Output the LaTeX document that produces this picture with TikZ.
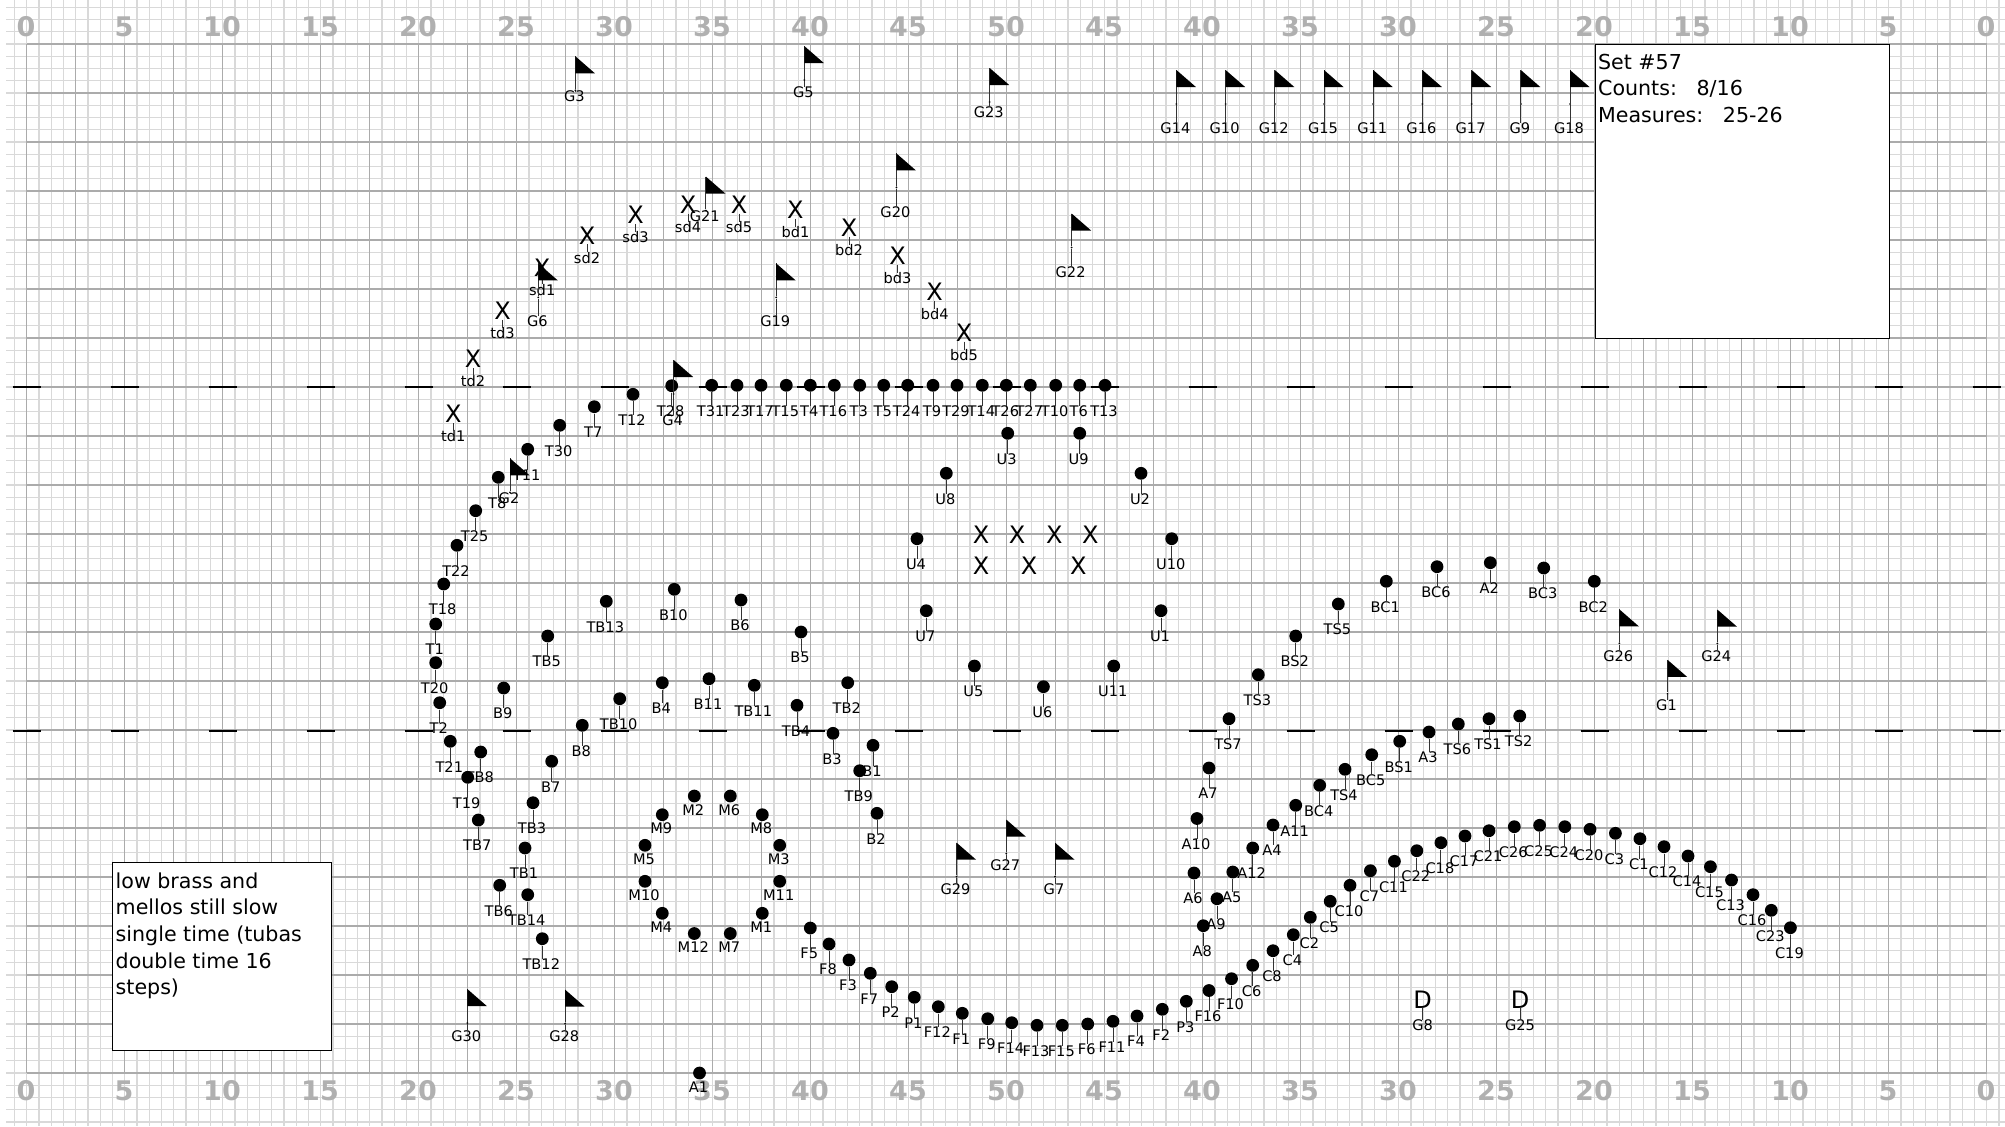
\documentclass[tikz,border=0pt]{standalone}
\usepackage{xcolor}
\usepackage{fontspec}
\setmainfont{DejaVu Sans}
\usetikzlibrary{positioning}

\definecolor{finegrid}{HTML}{D9D9D9}
\definecolor{yardgrid}{HTML}{ABABAB}
\definecolor{yardnum}{HTML}{B0B0B0}

\begin{document}
\begin{tikzpicture}[
				x=0.5pt, y=-0.5pt,
				font=\fontsize{7.3}{8}\selectfont,
				node distance=6.7pt,
				fineline/.style={finegrid, line width=0.7pt},
				yardline/.style={yardgrid, line width=0.65pt},
				hashmark/.style={black, line width=1pt},
				bignum/.style={font=\fontsize{13.5}{14}\selectfont\bfseries, text=yardnum, inner sep=0pt},
				dot/.style={circle, fill=black, inner sep=0pt, minimum size=6.4pt},
				flagbase/.style={circle, fill=black, inner sep=0pt, minimum size=1pt},
				xmark/.style={font=\fontsize{12}{12}\selectfont, inner sep=0pt, text height=8.7pt, text depth=0pt},
				tag/.style={inner sep=0pt, text height=5.1pt, text depth=0pt},
				stem/.style={black!80, line width=0.45pt},
				notebox/.style={draw=black, fill=white, line width=0.55pt, inner sep=0pt, anchor=north west},
				notetext/.style={font=\fontsize{10.3}{13.35}\selectfont, align=left, inner sep=0pt, anchor=north west}
				]
				\useasboundingbox (0,0) rectangle (2005,1126);
				
				% Fine grid
				\foreach \i in {0,...,162} \draw[fineline] (14.45+12.25*\i,0) -- (14.45+12.25*\i,1126);
				\foreach \j in {0,...,91} \draw[fineline] (6,7.25+12.25*\j) -- (2005,7.25+12.25*\j);
				
				% Yard lines
				\foreach \i in {0,...,40} \draw[yardline] (26.7+49*\i,44) -- (26.7+49*\i,1073);
				\foreach \j in {0,...,21} \draw[yardline] (26.7,44+49*\j) -- (1986.7,44+49*\j);
				
				% Hash marks
				\foreach \i in {0,...,20} {
					\draw[hashmark] (12.7+98*\i,387) -- (40.7+98*\i,387);
					\draw[hashmark] (12.7+98*\i,730.5) -- (40.7+98*\i,730.5);
				}
				
				% Yard numbers
				\foreach \num [count=\k from 0] in {0,5,10,15,20,25,30,35,40,45,50,45,40,35,30,25,20,15,10,5,0} {
					\node[bignum] (top\k) at (26+98*\k,27) {\num};
					\node[bignum] (bottom\k) at (26+98*\k,1091) {\num};
				}
				
				% Performers with a label 25px under the dot
				\foreach \n/\x/\y in {
					T12/633/394.3, T7/594.3/406.7, T30/559.7/425.3, T11/527.7/449.3, T8/498.3/477.3, T25/475.7/510.7,
					T22/457/545.3, T18/443.7/584, T1/435.7/624, T20/435.7/662.7, T2/439.7/702.7, T21/450.3/741.3,
					T19/467.7/777.3, T28/671.7/385.7, T31/711.7/385.3, T23/737/385.3, T17/761/385.3, T15/786.3/385.3,
					T4/810.3/385.3, T16/834.3/385.3, T3/859.7/385.3, T5/883.7/385.3, T24/907.7/385.3, T9/933/385.3,
					T29/957/385.3, T14/982.3/385.3, T26/1006.3/385.3, T27/1030.3/385.3, T10/1055.7/385.3, T6/1079.7/385.3,
					T13/1105/385.3,
					TB8/480.7/752, TB7/478.3/820, TB3/533/802.7, TB5/547.7/636, TB10/619.7/698.7, TB11/754.3/685.3,
					TB4/797/705.3, TB2/847.7/682.7, TB9/859.7/770.7, TB1/525/848, TB6/499.7/885.3, TB14/527.7/894.7,
					TB12/542.3/938.7, TB13/606.3/601.3,
					B7/551.7/761.3, B8/582.3/725.3, B9/503.7/688, B4/662.3/682.7, B11/709/678.7, B5/801/632,
					B3/833/733.3, B1/873/745.3, B2/877/813.3, B10/674.3/589.3, B6/741/600,
					U3/1007.7/433.3, U9/1079.7/433.3, U8/946.3/473.3, U2/1141/473.3, U4/917/538.7, U7/926.3/610.7,
					U10/1171.7/538.7, U1/1161/610.7, U5/974.4/666, U6/1043.4/686.7, U11/1113.7/666,
					BC1/1386.3/581.3, BC6/1437/566.7, BC3/1543.7/568, BC2/1594.3/581.3, BC5/1371.7/754.7, BC4/1319.7/785.3,
					TS5/1338.3/604, TS3/1258.3/674.7, TS7/1229/718.7, TS6/1458.3/724, TS1/1489/718.7, TS2/1519.7/716,
					TS4/1345/769.3, BS2/1295.7/636, BS1/1399.7/741.3,
					A2/1490.3/562.7, A7/1209/768, A3/1429/732, A11/1295.7/805.3, A10/1197/818.5, A4/1273/825,
					A12/1252.7/848, A5/1232.8/872, A9/1217/898.7, A8/1203.3/925.7, A6/1194/873,
					C19/1790.4/927.7, C23/1771.3/910.3, C16/1753/894.7, C13/1731.5/880, C15/1710.4/866.7, C14/1688/856,
					C12/1664/846.7, C1/1639.9/838.7, C3/1615.4/833.3, C20/1590/829.3, C24/1564.8/826.7, C25/1539.6/825.3,
					C26/1514.3/826.7, C21/1489/830.7, C17/1465/836, C18/1440.9/842.7, C22/1416.8/850.7, C11/1394.4/861.3,
					C7/1370.4/870.7, C10/1350/885.3, C5/1330.2/901.3, C2/1310.3/917.3, C4/1293.3/934.7, C8/1273/950.7,
					C6/1252.7/965.3,
					F10/1231.5/978.7, F16/1209/990.5, F2/1162.3/1009.3, F4/1137/1016, F11/1113/1021.3, F6/1087.7/1024,
					F15/1062.3/1025.3, F13/1037/1025.3, F14/1011.7/1022.7, F9/987.7/1018.7, F1/962.3/1013.3, F12/938.3/1006.7,
					F7/870.3/973.3, F3/849/960, F8/829/944, F5/810.3/928,
					P3/1186.3/1001.3, P1/914.3/997.3, P2/891.7/986.7} {
					\node[dot] (\n) at (\x,\y) {};
					\node[tag, below=of \n, xshift=-0.5pt] (\n-tag) {\n};
					\draw[stem] (\n) -- (\n |- \n-tag.north);
				}
				
				% Mellos and A1, label right under the dot
				\foreach \n/\x/\y in {
					M2/694.3/796, M6/730.3/796, M9/662.3/814.7, M8/762.3/814.7, M5/645/845.3, M3/779.7/845.3,
					M10/645/881.3, M11/779.7/881.3, M4/662.3/913.3, M1/762.3/913.3, M12/694.3/933.5, M7/730.3/933.5,
					A1/699.5/1073} {
					\node[dot] (\n) at (\x,\y) {};
					\node[tag, below=0.8pt of \n, xshift=-0.5pt] (\n-tag) {\n};
				}
				
				% Percussion
				\foreach \n/\x/\y in {
					sd1/542.2/267.3, sd2/587/235.3, sd3/635.5/214.8, sd4/688/204.6, sd5/739/204.6,
					td1/453.3/414, td2/473/359, td3/502.5/310.7,
					bd1/795.4/209.7, bd2/849/227.6, bd3/897.6/255.7, bd4/934.7/291.5, bd5/964/332.5} {
					\node[xmark] (\n) at (\x,\y) {X};
					\node[tag, below=4pt of \n] (\n-tag) {\n};
					\draw[stem] (\n) -- (\n |- \n-tag.north);
				}
				
				% Unlabelled X block
				\node[xmark] (x1) at (981,534.7) {X};
				\node[xmark] (x2) at (1017,534.7) {X};
				\node[xmark] (x3) at (1054.3,534.7) {X};
				\node[xmark] (x4) at (1090.3,534.7) {X};
				\node[xmark] (x5) at (981,566) {X};
				\node[xmark] (x6) at (1029,566) {X};
				\node[xmark] (x7) at (1078.3,566) {X};
				
				% Guard flags
				\foreach \n/\x/\y/\ly in {
					G3/575.4/56.3/96, G5/804.3/46/92, G23/989.7/68/112.5,
					G14/1176.4/70/128.7, G10/1225.6/70/128.7, G12/1274.8/70/128.7, G15/1324/70/128.7, G11/1373.2/70/128.7,
					G16/1422.4/70/128.7, G17/1471.6/70/128.7, G9/1520.8/70/128.7, G18/1570/70/128.7,
					G21/705.8/176.5/216, G20/896.4/153.4/212.3, G22/1071.6/213.5/272.4, G6/538.3/263.4/321, G19/776.2/263.4/321,
					G4/673.7/360/420, G2/510/458.3/498.3, G26/1619.3/609.3/656, G24/1717.3/609.5/656, G1/1667.5/659.8/705,
					G29/956.5/842.6/889, G27/1006.3/819.6/865.7, G7/1055/842.6/889, G30/467.3/989/1036, G28/565.2/989.7/1036} {
					\node[flagbase] (\n) at (\x,\y+34) {};
					\node[tag] (\n-tag) at (\x-1,\ly) {\n};
					\draw[stem] (\n) -- ++(0,-34);
					\draw[stem] (\n) -- (\n |- \n-tag.north);
					\fill (\n) ++(0,-34) -- ++(0,17) -- ++(19.5,0) -- cycle;
				}
				
				% Guard with D
				\node[xmark] (G8) at (1422.6,999.3) {D};
				\node[xmark] (G25) at (1520,999.3) {D};
				\node[tag, below=5.6pt of G8] (G8-tag) {G8};
				\node[tag, below=5.6pt of G25] (G25-tag) {G25};
				\draw[stem] (G8) -- (G8-tag);
				\draw[stem] (G25) -- (G25-tag);
				
				% Notes
				\node[notebox, minimum width=109.3pt, minimum height=93.9pt] (lowbox) at (112,862.3) {};
				\node[notetext] (lowtext) at (115.3,872) {low brass and\\mellos still slow\\single time (tubas\\double time 16\\steps)};
				\node[notebox, minimum width=147.3pt, minimum height=147.2pt] (setbox) at (1594.7,43.7) {};
				\node[notetext] (settext) at (1597.7,53.5) {Set \#57\\Counts:~\ ~8/16\\Measures:~\ ~25-26};
				
			\end{tikzpicture}
\end{document}
